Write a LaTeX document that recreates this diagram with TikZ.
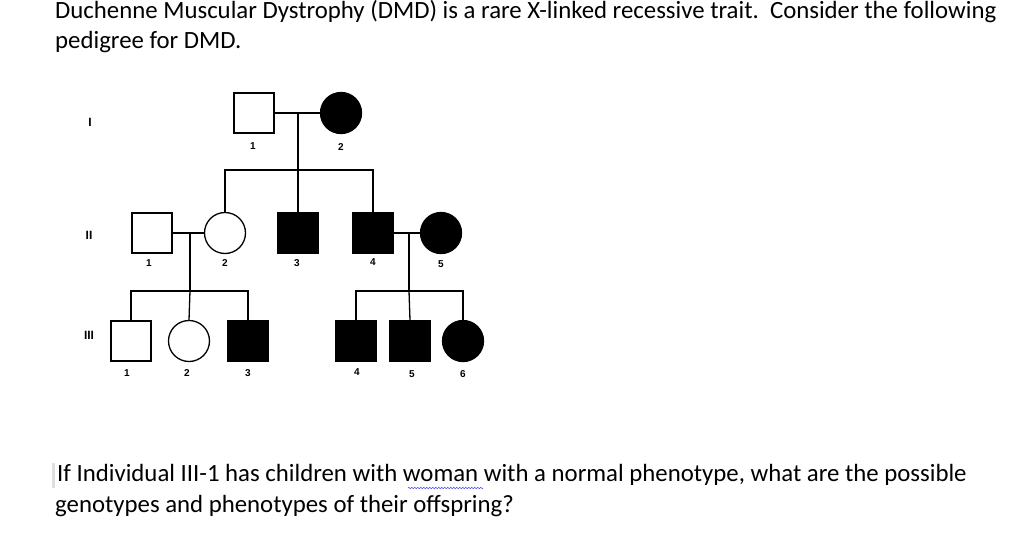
\documentclass[tikz,border=0pt]{standalone}
\usepackage{fontspec}
\setmainfont{Carlito}
\newfontfamily\arialf{Liberation Sans}
\usetikzlibrary{decorations.pathmorphing}
\begin{document}
\begin{tikzpicture}[x=1pt,y=-1pt,
  txt/.style={anchor=west,inner sep=0pt,font=\fontsize{24.8}{28}\selectfont},
  num/.style={inner sep=0pt,font=\arialf\bfseries\fontsize{10}{11}\selectfont},
  gen/.style={inner sep=0pt,font=\arialf\bfseries\fontsize{12}{14}\selectfont},
  m/.style={draw,line width=1.3pt,minimum size=40pt,inner sep=0pt},
  f/.style={draw,line width=1.3pt,circle,minimum size=41pt,inner sep=0pt},
  aff/.style={fill=black},
  ln/.style={line width=1.3pt}]
\useasboundingbox (0,0) rectangle (1024,543);
\node[txt] (t1) at (55,12) {Duchenne Muscular Dystrophy (DMD) is a rare X-linked recessive trait.\ \ Consider the following};
\node[txt] (t2) at (55,42) {pedigree for DMD.};
\node[txt] (t3) at (57,475) {If Individual III-1 has children with woman with a normal phenotype, what are the possible};
\node[txt] (t4) at (55,506) {genotypes and phenotypes of their offspring?};
\fill[black!12] (52,463) rectangle (55,488);
\coordinate (w1) at (408,488); \coordinate (w2) at (483,488);
\draw[blue!70,line width=0.6pt,decorate,decoration={zigzag,segment length=3pt,amplitude=0.8pt}] (w1) -- (w2);
% generation labels
\node[gen] (gI) at (90,122) {I};
\node[gen] (gII) at (89,235) {II};
\node[gen] (gIII) at (89,335) {III};
% Gen I
\node[m] (a1) at (254,113) {};
\node[f,aff] (a2) at (341,113) {};
% Gen II
\node[m] (b1) at (152,233) {};
\node[f] (b2) at (225,233) {};
\node[m,aff] (b3) at (298,233) {};
\node[m,aff] (b4) at (373,233) {};
\node[f,aff] (b5) at (441,233) {};
% Gen III
\node[m] (c1) at (131,341) {};
\node[f] (c2) at (189,341) {};
\node[m,aff] (c3) at (248,341) {};
\node[m,aff] (c4) at (356,341) {};
\node[m,aff] (c5) at (410,341) {};
\node[f,aff] (c6) at (463,341) {};
% labels
\node[num] (la1) at (253,146) {1};
\node[num] (la2) at (341,147) {2};
\node[num] (lb1) at (149,263) {1};
\node[num] (lb2) at (225,263) {2};
\node[num] (lb3) at (297,263) {3};
\node[num] (lb4) at (373,262) {4};
\node[num] (lb5) at (441,264) {5};
\node[num] (lc1) at (127,373) {1};
\node[num] (lc2) at (187,373) {2};
\node[num] (lc3) at (248,373) {3};
\node[num] (lc4) at (357,372) {4};
\node[num] (lc5) at (412,374) {5};
\node[num] (lc6) at (463,374) {6};
% lines
\draw[ln] (a1.east) -- (a2.west);
\coordinate (dI) at (298,113); \coordinate (sI) at (298,170);
\draw[ln] (dI) -- (sI);
\draw[ln] (b2.north) |- (sI) -| (b4.north);
\draw[ln] (sI) -- (b3.north);
\draw[ln] (b1.east) -- (b2.west);
\draw[ln] (b4.east) -- (b5.west);
\coordinate (dL) at (190,233); \coordinate (sL) at (190,291);
\coordinate (dR) at (409,233); \coordinate (sR) at (409,291);
\draw[ln] (dL) -- (sL);
\draw[ln] (c1.north) |- (sL) -| (c3.north);
\draw[ln] (sL) -- (c2.north);
\draw[ln] (dR) -- (sR);
\draw[ln] (c4.north) |- (sR) -| (c6.north);
\draw[ln] (sR) -- (c5.north);
\end{tikzpicture}
\end{document}
